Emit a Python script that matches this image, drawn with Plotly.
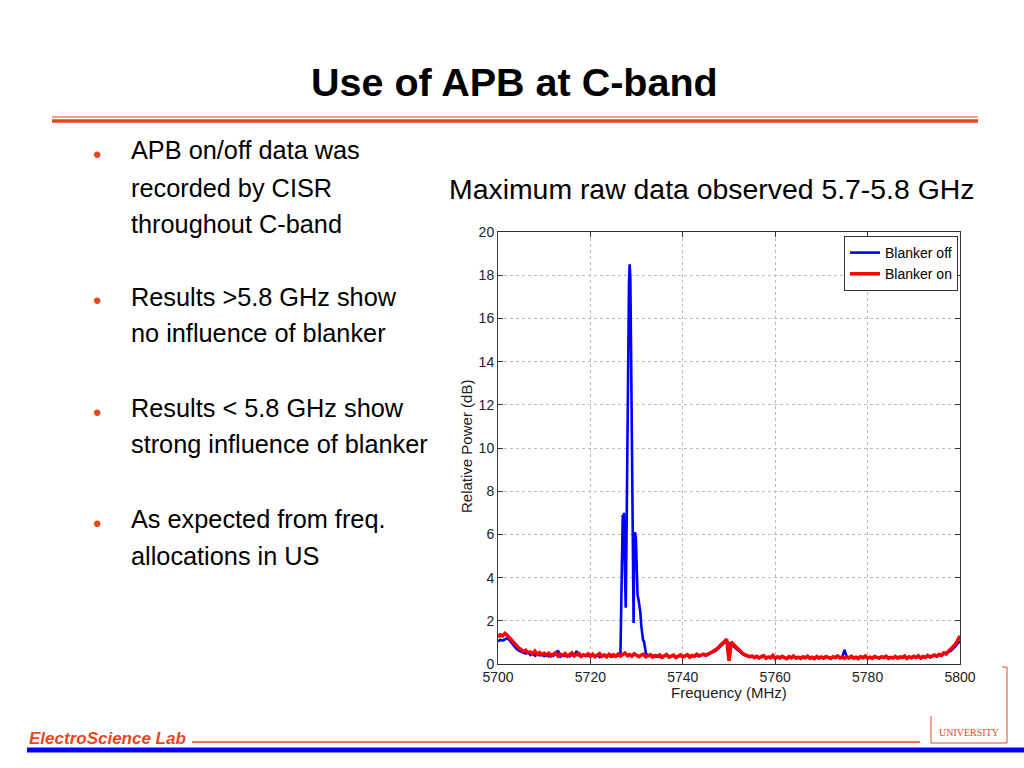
import numpy as np
import plotly.graph_objects as go

# ---------------- data ----------------
# Blanker on (red) sampled every 0.5 MHz, 5700 .. 5800
on_start = [1.25]
on_blocks = [
    [1.35, 1.30, 1.42, 1.33, 1.22, 1.08, 0.95, 0.84, 0.74, 0.68],  # 5700.5-5705
    [0.58, 0.64, 0.52, 0.56, 0.47, 0.60, 0.45, 0.53, 0.43, 0.50],  # -5710
    [0.41, 0.50, 0.38, 0.46, 0.53, 0.37, 0.45, 0.40, 0.48, 0.36],  # -5715
    [0.44, 0.51, 0.37, 0.42, 0.49, 0.36, 0.43, 0.39, 0.47, 0.35],  # -5720
    [0.45, 0.34, 0.41, 0.48, 0.36, 0.42, 0.33, 0.45, 0.38, 0.43],  # -5725
    [0.36, 0.46, 0.37, 0.42, 0.51, 0.38, 0.44, 0.36, 0.47, 0.40],  # -5730
    [0.34, 0.41, 0.45, 0.33, 0.39, 0.43, 0.32, 0.40, 0.36, 0.42],  # -5735
    [0.31, 0.38, 0.44, 0.32, 0.37, 0.41, 0.30, 0.36, 0.42, 0.33],  # -5740
    [0.38, 0.43, 0.32, 0.40, 0.36, 0.45, 0.38, 0.42, 0.46, 0.40],  # -5745
    [0.48, 0.52, 0.58, 0.64, 0.72, 0.84, 0.96, 1.05, 1.15, 0.15],  # -5750
    [1.02, 0.90, 0.78, 0.66, 0.58, 0.48, 0.42, 0.38, 0.34, 0.37],  # -5755
    [0.30, 0.36, 0.28, 0.34, 0.39, 0.27, 0.33, 0.29, 0.40, 0.26],  # -5760
    [0.33, 0.28, 0.36, 0.30, 0.25, 0.34, 0.29, 0.37, 0.27, 0.32],  # -5765
    [0.26, 0.34, 0.29, 0.36, 0.27, 0.31, 0.25, 0.35, 0.28, 0.33],  # -5770
    [0.27, 0.35, 0.29, 0.26, 0.34, 0.30, 0.37, 0.28, 0.32, 0.26],  # -5775
    [0.33, 0.28, 0.36, 0.27, 0.31, 0.25, 0.34, 0.29, 0.37, 0.27],  # -5780
    [0.32, 0.26, 0.35, 0.29, 0.27, 0.34, 0.30, 0.36, 0.26, 0.31],  # -5785
    [0.28, 0.35, 0.27, 0.33, 0.30, 0.37, 0.26, 0.34, 0.29, 0.36],  # -5790
    [0.30, 0.38, 0.28, 0.35, 0.31, 0.40, 0.33, 0.37, 0.42, 0.36],  # -5795
    [0.45, 0.40, 0.52, 0.48, 0.60, 0.66, 0.78, 0.92, 1.10, 1.30],  # -5800
]

# Blanker off (blue): low part 5700..5726.5 every 0.5 MHz
off_low = [
    1.05,
    1.12, 1.08, 1.15, 1.20, 1.10, 0.95, 0.80, 0.70, 0.62, 0.58,
    0.52, 0.48, 0.55, 0.42, 0.50, 0.38, 0.46, 0.40, 0.44, 0.36,
    0.42, 0.35, 0.45, 0.38, 0.48, 0.62, 0.34, 0.43, 0.37, 0.41,
    0.35, 0.44, 0.38, 0.60, 0.40, 0.33, 0.42, 0.36, 0.39, 0.34,
    0.40, 0.36, 0.43, 0.32, 0.38, 0.41, 0.35, 0.39, 0.33, 0.37,
    0.34, 0.38, 0.45,
]
# Blanker off: interference peak region (irregular sampling)
peak_freq = [5726.7, 5726.85, 5727.0, 5727.1, 5727.25, 5727.45, 5727.65, 5727.8,
             5728.0, 5728.2, 5728.35, 5728.5, 5728.65, 5728.8, 5729.0, 5729.2,
             5729.35, 5729.5, 5729.65, 5729.85, 5730.0, 5730.2, 5730.4, 5730.6,
             5730.8, 5731.0, 5731.2, 5731.4, 5731.6, 5731.8, 5732.0, 5732.3, 5732.6]
peak_vals = [3.0, 6.8, 6.9, 6.5, 7.0, 4.5, 2.6, 5.5,
             11.0, 16.0, 17.6, 18.5, 17.8, 14.5, 9.0, 3.5,
             1.9, 5.5, 6.1, 5.8, 4.2, 3.2, 3.0, 2.7,
             2.4, 1.8, 1.3, 1.1, 1.05, 0.7, 0.5, 0.42, 0.38]
# Blanker off: high part 5733..5800 every 0.5 MHz
off_high = [
    0.36, 0.40, 0.33, 0.38, 0.35,
    0.30, 0.36, 0.42, 0.31, 0.35, 0.39, 0.29, 0.34, 0.40, 0.32,
    0.36, 0.41, 0.30, 0.38, 0.34, 0.43, 0.36, 0.40, 0.44, 0.38,
    0.46, 0.50, 0.56, 0.60, 0.68, 0.78, 0.88, 0.98, 1.02, 0.95,
    0.92, 0.82, 0.72, 0.62, 0.55, 0.46, 0.40, 0.36, 0.32, 0.35,
    0.29, 0.34, 0.27, 0.32, 0.37, 0.26, 0.31, 0.28, 0.38, 0.25,
    0.31, 0.27, 0.34, 0.29, 0.24, 0.32, 0.28, 0.35, 0.26, 0.30,
    0.25, 0.32, 0.28, 0.34, 0.26, 0.30, 0.24, 0.33, 0.27, 0.31,
    0.26, 0.33, 0.28, 0.25, 0.32, 0.29, 0.35, 0.27, 0.31, 0.65,
    0.32, 0.27, 0.34, 0.26, 0.30, 0.24, 0.33, 0.28, 0.35, 0.26,
    0.30, 0.25, 0.33, 0.28, 0.26, 0.32, 0.29, 0.34, 0.25, 0.30,
    0.27, 0.33, 0.26, 0.31, 0.29, 0.35, 0.25, 0.32, 0.28, 0.34,
    0.29, 0.36, 0.27, 0.33, 0.30, 0.38, 0.31, 0.35, 0.40, 0.34,
    0.42, 0.38, 0.48, 0.45, 0.55, 0.60, 0.70, 0.82, 0.95, 1.05,
]

x_ticks = [5700, 5720, 5740, 5760, 5780, 5800]
y_ticks = [0, 2, 4, 6, 8, 10, 12, 14, 16, 18, 20]

bullets = [
    ["APB on/off data was", "recorded by CISR", "throughout C-band"],
    ["Results >5.8 GHz show", "no influence of blanker"],
    ["Results < 5.8 GHz show", "strong influence of blanker"],
    ["As expected from freq.", "allocations in US"],
]

# ---------------- assemble series ----------------
on_vals = on_start + [v for b in on_blocks for v in b]
on_freq = list(5700 + 0.5 * np.arange(len(on_vals)))

off_low_freq = list(5700 + 0.5 * np.arange(len(off_low)))
off_high_freq = list(5733 + 0.5 * np.arange(len(off_high)))
off_freq = off_low_freq + peak_freq + off_high_freq
off_vals = off_low + peak_vals + off_high

W, H = 1024, 768
def px(x):
    return x / W
def py(y):
    return 1 - y / H

FONT = "Liberation Sans, Arial, sans-serif"
ORANGE = "#e8461e"

fig = go.Figure()
fig.add_trace(go.Scatter(x=off_freq, y=off_vals, mode="lines", name="Blanker off",
                         line=dict(color="#0000ff", width=2.6)))
fig.add_trace(go.Scatter(x=on_freq, y=on_vals, mode="lines", name="Blanker on",
                         line=dict(color="#ff0000", width=3.5)))

axis_common = dict(showline=True, linecolor="#333333", linewidth=1, mirror="ticks",
                   ticks="inside", ticklen=5, tickcolor="#333333", automargin=False,
                   showgrid=True, gridcolor="#bcbcbc", griddash="dot", gridwidth=1,
                   zeroline=False, tickfont=dict(family=FONT, size=14, color="#222222"))

fig.update_layout(
    width=W, height=H,
    margin=dict(l=0, r=0, t=0, b=0, pad=0, autoexpand=False),
    paper_bgcolor="white", plot_bgcolor="white",
    font=dict(family=FONT, color="black"),
    xaxis=dict(domain=[px(498), px(960)], range=[5700, 5800], tickvals=x_ticks, **axis_common),
    yaxis=dict(domain=[py(664), py(232)], range=[0, 20], tickvals=y_ticks, **axis_common),
    legend=dict(x=px(958), y=py(236), xanchor="right", yanchor="top",
                bgcolor="white", bordercolor="#333333", borderwidth=1,
                font=dict(family=FONT, size=14, color="black"),
                tracegroupgap=0, itemwidth=30),
    showlegend=True,
)

def note(x, y, text, size, color="black", xanchor="left", family=FONT, angle=0):
    return dict(x=px(x), y=py(y), xref="paper", yref="paper", text=text, showarrow=False,
                xanchor=xanchor, yanchor="middle", textangle=angle,
                font=dict(family=family, size=size, color=color))

ann = []
ann.append(note(514, 82, "<b>Use of APB at C-band</b>", 39.5, xanchor="center"))
ann.append(note(711, 189, "Maximum raw data observed 5.7-5.8 GHz", 28.4, xanchor="center"))
line_y = [[150, 188, 224], [297, 333], [408, 444], [519, 556]]
for lines, ys in zip(bullets, line_y):
    ann.append(note(97, ys[0] + 4, "•", 24, color=ORANGE, xanchor="center"))
    for t, yy in zip(lines, ys):
        ann.append(note(129, yy, t, 25.3))
ann.append(note(729, 692, "Frequency (MHz)", 15, color="#222222", xanchor="center"))
ann.append(note(466, 447, "Relative Power (dB)", 15, color="#222222", xanchor="center", angle=-90))
ann.append(note(27, 738, "<b><i>ElectroScience Lab</i></b>", 17, color=ORANGE))
ann.append(note(969, 732, "UNIVERSITY", 10, color=ORANGE, xanchor="center",
                family="Liberation Serif, serif"))
fig.update_layout(annotations=ann)

def hline(x0, x1, y, color, width):
    return dict(type="line", xref="paper", yref="paper", x0=px(x0), x1=px(x1), y0=py(y), y1=py(y),
                line=dict(color=color, width=width))
def vline(x, y0, y1, color, width):
    return dict(type="line", xref="paper", yref="paper", x0=px(x), x1=px(x), y0=py(y0), y1=py(y1),
                line=dict(color=color, width=width))

shapes = [
    hline(52, 978, 117, ORANGE, 1.2),
    hline(52, 978, 121, ORANGE, 3.5),
    hline(192, 920, 742, ORANGE, 1.5),
    hline(27, 1024, 750, "#0000ff", 5),
    vline(1007, 667, 743, ORANGE, 1),
    hline(1002, 1007, 667, ORANGE, 1),
    vline(931, 716, 743, ORANGE, 1),
    hline(931, 1007, 743, ORANGE, 1),
]
fig.update_layout(shapes=shapes)

fig.write_html("out.html", config={"displayModeBar": False},
               post_script="document.body.style.margin='0';document.body.style.overflow='hidden';")
